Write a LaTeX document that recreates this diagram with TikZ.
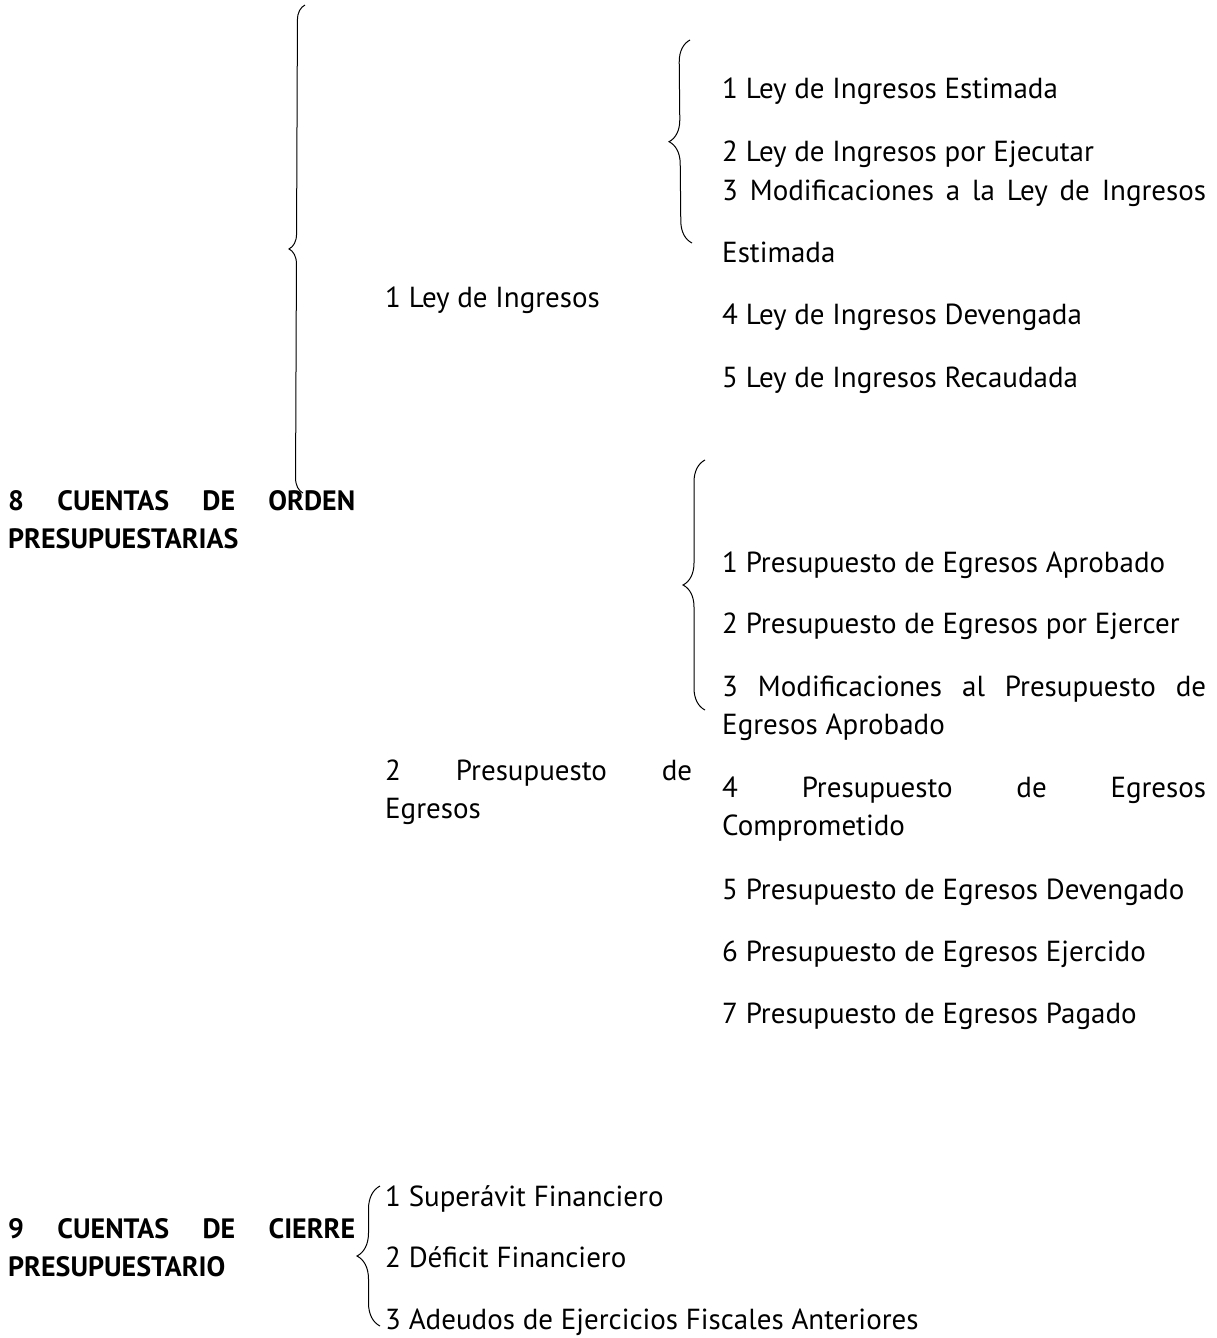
\documentclass[tikz,border=0pt]{standalone}
\usepackage{fontspec}
\setmainfont{PT Sans}
\usetikzlibrary{decorations.pathreplacing}
\hyphenpenalty=10000
\tolerance=9999

\tikzset{
	txt/.style={anchor=base west, inner sep=0pt, align=justify, font=\fontsize{29}{38}\selectfont},
	head/.style={txt, text width=347pt, font=\fontsize{28}{38}\selectfont\bfseries},
	mid/.style={txt, text width=307pt},
	sub/.style={txt, text width=484pt},
	wide/.style={txt, text width=820pt},
	llave/.style={decorate, decoration={brace, amplitude=#1}, line width=1pt},
	llave/.default=20,
}

\begin{document}
\begin{tikzpicture}[x=1pt, y=-1pt]
	\path[fill=white] (0,0) rectangle (1216,1338);
	\useasboundingbox (0,0) rectangle (1216,1338);
	
	% grupo 8
	\node[head] (n8) at (8,510) {8 CUENTAS DE ORDEN\linebreak PRESUPUESTARIAS};
	\node[mid] (ing) at (385,307) {1 Ley de Ingresos};
	\node[mid] (egr) at (385,780) {2 Presupuesto de\linebreak Egresos};
	
	\node[sub] (i1) at (722,98) {1 Ley de Ingresos Estimada};
	\node[sub] (i2) at (722,161) {2 Ley de Ingresos por Ejecutar};
	\node[sub, font=\fontsize{29}{62}\selectfont] (i3) at (722,200) {3 Modificaciones a la Ley de Ingresos\linebreak Estimada};
	\node[sub] (i4) at (722,324) {4 Ley de Ingresos Devengada};
	\node[sub] (i5) at (722,387) {5 Ley de Ingresos Recaudada};
	
	\node[sub] (e1) at (722,572) {1 Presupuesto de Egresos Aprobado};
	\node[sub] (e2) at (722,633) {2 Presupuesto de Egresos por Ejercer};
	\node[sub] (e3) at (722,696) {3 Modificaciones al Presupuesto de\linebreak Egresos Aprobado};
	\node[sub] (e4) at (722,797) {4 Presupuesto de Egresos\linebreak Comprometido};
	\node[sub] (e5) at (722,899) {5 Presupuesto de Egresos Devengado};
	\node[sub] (e6) at (722,961) {6 Presupuesto de Egresos Ejercido};
	\node[sub] (e7) at (722,1023) {7 Presupuesto de Egresos Pagado};
	
	% grupo 9
	\node[head] (n9) at (8,1238) {9 CUENTAS DE CIERRE\linebreak PRESUPUESTARIO};
	\node[wide] (c1) at (385,1206) {1 Superávit Financiero};
	\node[wide] (c2) at (385,1267) {2 Déficit Financiero};
	\node[wide] (c3) at (385,1329) {3 Adeudos de Ejercicios Fiscales Anteriores};
	
	% llaves
	\coordinate (b1a) at (303,493);
	\coordinate (b1b) at (305,5);
	\coordinate (b2a) at (692,243);
	\coordinate (b2b) at (690,40);
	\coordinate (b3a) at (705,710);
	\coordinate (b3b) at (705,460);
	\coordinate (b4a) at (380,1326);
	\coordinate (b4b) at (380,1186);
	
	\draw[llave=15] (b1a) -- (b1b);
	\draw[llave=22] (b2a) -- (b2b);
	\draw[llave=22] (b3a) -- (b3b);
	\draw[llave=23] (b4a) -- (b4b);
\end{tikzpicture}
\end{document}
